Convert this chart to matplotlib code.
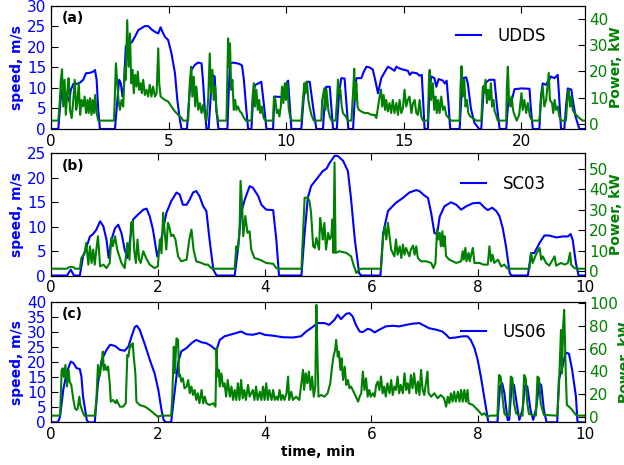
import numpy as np
import matplotlib
matplotlib.use('Agg')
import matplotlib.pyplot as plt

# ---- UDDS (panel a) ----
udds_t = [0, 0.31, 0.41, 0.49, 0.59, 0.69, 0.78, 0.84, 0.95, 1.09, 1.23, 1.37, 1.49, 1.66, 1.80, 1.87,
          1.94, 2.01, 2.08, 2.72, 2.82, 2.90, 2.97, 3.04, 3.10, 3.18, 3.28, 3.43, 3.57, 3.71, 3.85, 3.99,
          4.13, 4.27, 4.42, 4.56, 4.66, 4.74, 4.84, 4.98, 5.12, 5.27, 5.37, 5.48, 5.55, 5.78, 5.87, 5.97,
          6.11, 6.25, 6.40, 6.47, 6.54, 6.61, 6.70, 6.78, 6.86, 6.96, 7.03, 7.12, 7.50, 7.56, 7.62, 7.75,
          8.00, 8.12, 8.20, 8.30, 8.38, 8.52, 8.60, 8.67, 8.94, 9.05, 9.16, 9.44, 9.50, 9.80, 9.94, 10.08,
          10.15, 10.22, 10.64, 10.75, 10.86, 11.00, 11.15, 11.28, 11.56, 11.65, 11.70, 11.85, 11.92, 11.99,
          12.15, 12.25, 12.34, 12.48, 12.56, 12.64, 12.84, 12.92, 12.98, 13.19, 13.30, 13.41, 13.55, 13.68,
          13.80, 13.90, 14.04, 14.25, 14.32, 14.45, 14.60, 14.68, 14.80, 14.96, 15.17, 15.25, 15.35, 15.55,
          15.67, 15.76, 15.82, 15.88, 16.02, 16.10, 16.17, 16.30, 16.38, 16.48, 16.66, 16.74, 16.82, 16.90,
          16.97, 17.37, 17.45, 17.51, 17.65, 17.72, 17.85, 18.00, 18.20, 18.29, 18.40, 18.52, 18.64, 18.85,
          18.95, 19.07, 19.35, 19.45, 19.60, 19.70, 20.00, 20.34, 20.40, 20.48, 20.76, 20.83, 20.90, 21.04,
          21.26, 21.40, 21.54, 21.60, 21.68, 21.82, 21.90, 21.97, 22.12, 22.18, 22.30, 22.46, 22.70]
udds_speed = [0, 0, 7.1, 9.5, 9.1, 7.9, 6.7, 9.5, 11, 11, 11.3, 12, 13.6, 13.7, 14, 14.4,
              12, 4.6, 0, 0, 7.1, 12, 11.1, 7.9, 10.3, 20.1, 20.9, 21.1, 22.5, 24.1, 24.6, 25.1,
              25.1, 24.3, 23.7, 23.3, 24.8, 23.7, 22.5, 21.7, 18.5, 13.6, 7.1, 2.2, 0, 0, 7.1, 14.4,
              15.6, 16.2, 16, 11.1, 4.6, 0, 0, 7.1, 13.2, 12.8, 4.6, 0, 0, 10, 16, 16.2,
              15.9, 15.5, 12, 5, 0, 0, 8, 10.7, 11.5, 6, 0, 0, 7.9, 7.8, 10.3, 11.8,
              6, 0, 0, 8, 11.5, 11.5, 5, 0, 0, 8, 10.3, 10.3, 5, 0,
              0, 9, 12.4, 12.3, 6, 0, 0, 8, 12.4, 12.4, 14, 15.2, 15, 14.5,
              11.5, 8.7, 12.4, 14.5, 15.2, 14.8, 14.2, 15.2, 14.8, 14.5, 14.2, 13.2, 13.8, 13.6,
              13.0, 13.2, 7, 0, 0, 10, 12.8, 12.4, 10.3, 12.2, 11.8, 11.1, 11.8, 6,
              0, 0, 8, 12.4, 12.6, 11.1, 5, 1.5, 0, 0, 10.3, 11.5, 12, 12,
              6, 0, 0, 7.5, 7.2, 9.7, 9.9, 9.8, 5, 0, 0, 8, 11.1, 10.8,
              12.8, 12.4, 13.2, 8, 0, 0, 6, 9.9, 9.6, 7.1, 3, 0, 0]
udds_pt = [0, 0.31, 0.38, 0.42, 0.47, 0.52, 0.58, 0.63, 0.69, 0.75, 0.81, 0.88, 0.95, 1.01, 1.07, 1.12,
           1.18, 1.24, 1.30, 1.37, 1.43, 1.49, 1.55, 1.60, 1.66, 1.72, 1.77, 1.83, 1.88, 1.94, 2.01, 2.68,
           2.76, 2.82, 2.87, 2.93, 3.00, 3.07, 3.14, 3.18, 3.24, 3.30, 3.36, 3.41, 3.47, 3.52, 3.58, 3.64,
           3.69, 3.75, 3.81, 3.86, 3.92, 3.99, 4.06, 4.13, 4.20, 4.27, 4.34, 4.42, 4.49, 4.56, 4.60, 4.66,
           4.74, 4.84, 4.98, 5.12, 5.27, 5.41, 5.55, 5.62, 5.83, 5.90, 5.96, 6.01, 6.07, 6.13, 6.18, 6.26,
           6.33, 6.40, 6.47, 6.54, 6.61, 6.68, 6.75, 6.80, 6.86, 6.92, 6.98, 7.03, 7.11, 7.46, 7.49, 7.53,
           7.57, 7.61, 7.66, 7.71, 7.77, 7.83, 7.88, 7.95, 8.03, 8.10, 8.17, 8.28, 8.52, 8.56, 8.62, 8.67,
           8.73, 8.79, 8.85, 8.90, 8.96, 9.04, 9.12, 9.44, 9.48, 9.54, 9.60, 9.65, 9.71, 9.77, 9.82, 9.88,
           9.94, 9.99, 10.05, 10.11, 10.18, 10.24, 10.64, 10.72, 10.77, 10.82, 10.88, 10.94, 10.99, 11.07,
           11.17, 11.49, 11.53, 11.58, 11.62, 11.66, 11.71, 11.75, 11.79, 11.85, 11.92, 12.10, 12.16, 12.20,
           12.25, 12.30, 12.36, 12.41, 12.53, 12.62, 12.77, 12.84, 12.89, 12.93, 12.98, 13.03, 13.09, 13.19,
           13.33, 13.47, 13.62, 13.76, 13.83, 13.97, 14.03, 14.08, 14.14, 14.20, 14.25, 14.32, 14.39, 14.46,
           14.53, 14.60, 14.68, 14.75, 14.82, 14.89, 14.96, 15.03, 15.10, 15.17, 15.24, 15.32, 15.39, 15.46,
           15.53, 15.60, 15.67, 15.74, 15.81, 16.02, 16.07, 16.10, 16.16, 16.23, 16.29, 16.35, 16.40, 16.46,
           16.52, 16.59, 16.66, 16.73, 16.80, 16.91, 17.00, 17.37, 17.41, 17.45, 17.51, 17.57, 17.62, 17.68,
           17.74, 17.82, 17.93, 18.08, 18.29, 18.36, 18.41, 18.47, 18.53, 18.58, 18.64, 18.70, 18.75, 18.81,
           18.86, 18.92, 18.99, 19.35, 19.38, 19.42, 19.47, 19.53, 19.58, 19.64, 19.70, 19.80, 19.90, 20.00,
           20.05, 20.12, 20.20, 20.27, 20.36, 20.45, 20.76, 20.84, 20.90, 20.97, 21.05, 21.12, 21.16, 21.21,
           21.30, 21.35, 21.41, 21.47, 21.54, 21.61, 21.68, 21.89, 21.97, 22.01, 22.07, 22.12, 22.18, 22.25,
           22.32, 22.46, 22.60, 22.70]
udds_power = [1.2, 1.2, 9.1, 16.8, 20.8, 6.6, 16.8, 3.4, 11.7, 17.4, 5.3, 2.2, 9.1, 16.8, 5.3, 7.9,
              15.5, 3.4, 9.1, 6.6, 10.4, 4.1, 9.1, 4.1, 9.8, 3.4, 9.1, 4.1, 11.0, 4.1, 1.2, 1.2,
              23.1, 15.5, 9.1, 5.3, 9.1, 6.6, 21.8, 16.8, 39.6, 21.8, 34.5, 15.5, 20.6, 11.7, 18.7, 14.2,
              19.9, 13.0, 15.5, 11.7, 16.8, 11.0, 13.0, 10.4, 14.9, 10.4, 14.2, 10.4, 11.7, 28.8, 15.5, 10.4,
              9.8, 9.1, 8.5, 6.6, 4.7, 3.4, 2.2, 1.2, 1.2, 15.5, 21.8, 10.4, 18.0, 6.6, 14.2, 5.3,
              7.9, 4.1, 7.3, 3.4, 1.2, 9.1, 26.9, 11.7, 20.6, 9.1, 14.2, 5.3, 1.2, 1.2, 15.5, 32.6,
              21.8, 30.7, 13.0, 16.8, 5.3, 9.1, 5.3, 6.6, 4.7, 4.1, 2.8, 1.2, 1.2, 9.1, 15.5, 6.6,
              13.0, 5.3, 9.1, 4.1, 6.6, 2.2, 1.2, 1.2, 10.4, 9.1, 4.1, 5.3, 2.8, 6.6, 14.2, 7.9,
              15.5, 9.1, 15.5, 5.3, 2.2, 1.2, 1.2, 10.4, 15.5, 11.7, 16.1, 9.1, 6.6, 3.4,
              1.2, 1.2, 9.1, 11.7, 13.6, 5.3, 13.0, 9.1, 5.3, 2.8, 1.2, 1.2, 9.1, 16.8,
              11.7, 13.0, 6.6, 4.1, 2.8, 1.2, 1.2, 11.7, 21.0, 9.1, 15.5, 6.6, 5.3, 4.7,
              4.1, 4.1, 3.4, 3.4, 2.2, 10.4, 13.0, 6.6, 11.0, 5.3, 9.1, 4.7, 7.9, 4.1,
              9.1, 4.1, 7.9, 3.4, 9.1, 4.1, 6.0, 13.0, 6.6, 9.1, 10.4, 4.1, 7.9, 9.1,
              4.1, 3.4, 9.1, 2.8, 1.2, 1.2, 18.0, 20.6, 9.1, 15.5, 5.3, 10.4, 4.1, 9.1,
              4.1, 10.4, 5.3, 6.6, 3.4, 2.2, 1.2, 1.2, 14.2, 22.0, 10.4, 16.8, 6.6, 9.1,
              4.1, 2.8, 2.2, 1.2, 1.2, 14.2, 11.7, 16.8, 7.9, 13.0, 9.1, 15.5, 6.6, 9.1,
              4.7, 3.4, 1.2, 1.2, 14.2, 21.8, 9.1, 6.6, 10.4, 5.3, 3.4, 1.2, 3.4, 11.7,
              5.3, 9.1, 4.1, 7.9, 2.8, 1.2, 1.2, 10.4, 14.2, 6.6, 9.1, 15.5, 19.5, 9.1,
              7.9, 4.1, 9.1, 5.3, 6.6, 2.8, 1.2, 1.2, 11.7, 13.0, 6.6, 10.4, 5.3, 4.1,
              3.4, 2.2, 1.2, 1.2]

# ---- SC03 (panel b) ----
sc03_t = [0, 0.30, 0.37, 0.43, 0.54, 0.60, 0.67, 0.73, 0.79, 0.85, 0.92, 0.98, 1.04, 1.08, 1.13, 1.20,
          1.26, 1.32, 1.38, 1.43, 1.48, 1.54, 1.63, 1.73, 1.79, 1.85, 1.91, 1.99, 2.04, 2.10, 2.16, 2.25,
          2.35, 2.41, 2.47, 2.54, 2.60, 2.66, 2.72, 2.78, 2.85, 2.91, 2.97, 3.04, 3.10, 3.44, 3.50, 3.56,
          3.63, 3.72, 3.78, 3.88, 3.94, 4.03, 4.16, 4.22, 4.27, 4.69, 4.75, 4.81, 4.87, 4.97, 5.09, 5.16,
          5.22, 5.31, 5.37, 5.47, 5.56, 5.62, 5.69, 5.77, 5.81, 6.17, 6.22, 6.31, 6.37, 6.46, 6.59, 6.71,
          6.84, 6.90, 6.99, 7.06, 7.12, 7.18, 7.23, 7.28, 7.37, 7.49, 7.59, 7.68, 7.78, 7.90, 8.03, 8.12,
          8.18, 8.26, 8.34, 8.40, 8.46, 8.52, 8.59, 8.62, 8.93, 8.99, 9.05, 9.15, 9.24, 9.33, 9.46, 9.58,
          9.68, 9.73, 9.77, 9.83, 9.88, 10.0]
sc03_speed = [0, 0, 1.2, 0, 0, 3.9, 6.0, 8.0, 8.5, 9.4, 11.1, 10.1, 7.3, 3.6, 7.3, 9.7,
              10.4, 8.7, 5.3, 3.6, 7.3, 11.5, 12.5, 13.5, 13.7, 12.1, 9.4, 3.9, 6.0, 9.4, 12.8, 15.2,
              17.0, 16.6, 14.5, 14.5, 15.6, 17.0, 17.3, 16.3, 14.2, 13.2, 7.3, 1.2, 0, 0, 5.3, 12.8,
              15.6, 18.3, 18.0, 16.3, 14.5, 13.5, 13.4, 7.3, 0, 0, 8.7, 15.9, 18.3, 19.7, 21.4, 21.9,
              23.1, 24.5, 24.5, 23.5, 21.4, 15.6, 7.3, 0.5, 0, 0, 8.7, 13.2, 13.9, 14.9, 15.9, 17.0,
              17.5, 17.3, 16.4, 15.9, 12.8, 8.7, 8.5, 12.1, 14.2, 15.0, 14.5, 13.5, 14.2, 14.8, 14.9, 13.9,
              13.4, 13.9, 13.2, 12.1, 9.7, 6.0, 0.5, 0, 0, 4.6, 4.6, 6.7, 8.2, 8.2, 7.8, 8.0,
              8.0, 8.5, 7.3, 2.5, 0, 0]
sc03_pt = [0, 0.30, 0.34, 0.42, 0.45, 0.54, 0.57, 0.63, 0.66, 0.70, 0.73, 0.76, 0.79, 0.82, 0.85, 0.88,
           0.92, 0.98, 1.04, 1.10, 1.13, 1.16, 1.20, 1.24, 1.28, 1.32, 1.38, 1.43, 1.47, 1.50, 1.53, 1.56,
           1.59, 1.62, 1.65, 1.68, 1.73, 1.78, 1.85, 1.94, 2.00, 2.04, 2.07, 2.10, 2.13, 2.16, 2.19, 2.22,
           2.25, 2.29, 2.33, 2.38, 2.44, 2.54, 2.59, 2.63, 2.67, 2.72, 2.82, 2.88, 2.94, 3.00, 3.04, 3.44,
           3.47, 3.50, 3.53, 3.55, 3.58, 3.60, 3.64, 3.68, 3.72, 3.75, 3.81, 3.91, 4.03, 4.16, 4.22, 4.25,
           4.69, 4.75, 4.81, 4.84, 4.87, 4.91, 4.94, 4.97, 5.02, 5.04, 5.07, 5.09, 5.12, 5.15, 5.19, 5.22,
           5.25, 5.27, 5.29, 5.31, 5.33, 5.40, 5.53, 5.62, 5.67, 5.72, 5.77, 5.81, 6.18, 6.22, 6.25, 6.28,
           6.31, 6.34, 6.37, 6.40, 6.43, 6.46, 6.49, 6.53, 6.56, 6.59, 6.62, 6.65, 6.71, 6.74, 6.78, 6.81,
           6.84, 6.87, 6.93, 7.03, 7.12, 7.16, 7.20, 7.23, 7.25, 7.28, 7.30, 7.33, 7.35, 7.37, 7.40, 7.46,
           7.59, 7.68, 7.71, 7.73, 7.76, 7.78, 7.82, 7.84, 7.90, 7.93, 8.03, 8.09, 8.18, 8.21, 8.24, 8.27,
           8.30, 8.37, 8.43, 8.49, 8.55, 8.96, 8.99, 9.02, 9.08, 9.15, 9.18, 9.21, 9.27, 9.33, 9.43, 9.46,
           9.55, 9.62, 9.68, 9.72, 9.74, 9.80, 9.86, 10.0]
sc03_power = [1.3, 1.3, 2.1, 2.1, 1.3, 1.3, 6.5, 8.8, 13.8, 3.3, 12.2, 4.1, 10.6, 3.3, 10.6, 17.1,
              2.4, 3.3, 1.6, 4.1, 16.3, 12.2, 17.1, 10.6, 7.3, 4.1, 1.6, 13.8, 5.7, 23.6, 24.4, 9.8,
              4.1, 15.5, 5.7, 4.1, 9.8, 6.5, 3.3, 1.6, 2.4, 15.5, 8.8, 28.5, 18.7, 10.6, 23.6, 21.2,
              17.1, 17.9, 15.5, 7.3, 4.9, 5.7, 15.5, 20.3, 10.6, 4.9, 4.1, 3.3, 3.3, 1.6, 1.3, 1.3,
              12.2, 10.6, 18.7, 44.0, 31.7, 17.1, 26.9, 18.7, 19.5, 10.6, 6.5, 5.7, 4.1, 3.7, 1.6, 1.3,
              1.3, 35.8, 35.8, 34.2, 28.5, 12.2, 11.4, 16.3, 10.6, 26.0, 20.3, 15.5, 23.6, 10.6, 18.7, 15.5,
              17.1, 25.2, 9.0, 52.9, 9.0, 9.8, 9.0, 7.3, 2.8, -0.8, 0.8, 1.3, 1.3, 17.1, 22.0, 15.5,
              23.6, 17.1, 10.6, 9.0, 7.3, 15.5, 8.1, 12.2, 6.5, 13.0, 8.1, 11.4, 7.3, 10.6, 12.5, 8.1,
              12.2, 6.5, 4.9, 4.9, 4.1, 1.6, 4.1, 20.3, 15.5, 18.7, 12.2, 19.5, 12.2, 17.1, 7.3, 5.7,
              4.1, 4.9, 9.8, 5.7, 11.4, 4.9, 9.0, 4.9, 11.4, 4.1, 4.1, 3.3, 3.3, 12.2, 4.9, 8.1,
              4.1, 5.7, 2.4, 3.3, 1.3, 1.3, 9.0, 4.1, 8.1, 11.4, 5.7, 7.3, 4.1, 2.8, 7.3, 2.8,
              4.1, 3.3, 4.1, 9.0, 3.3, 1.6, 1.3, 1.3]

# ---- US06 (panel c) ----
us06_t = [0, 0.13, 0.17, 0.23, 0.29, 0.37, 0.42, 0.48, 0.54, 0.57, 0.60, 0.67, 0.70, 0.82, 0.88, 0.95,
          1.04, 1.11, 1.20, 1.29, 1.38, 1.45, 1.51, 1.57, 1.61, 1.66, 1.76, 1.85, 1.94, 2.01, 2.07, 2.11,
          2.15, 2.25, 2.32, 2.38, 2.44, 2.54, 2.63, 2.72, 2.82, 2.91, 3.00, 3.07, 3.11, 3.16, 3.25, 3.35,
          3.47, 3.56, 3.66, 3.78, 3.91, 4.00, 4.16, 4.34, 4.53, 4.68, 4.78, 4.90, 4.99, 5.03, 5.12, 5.21,
          5.31, 5.37, 5.43, 5.53, 5.59, 5.65, 5.71, 5.78, 5.84, 5.93, 5.99, 6.06, 6.15, 6.27, 6.40, 6.52,
          6.65, 6.77, 6.90, 6.96, 7.08, 7.21, 7.33, 7.40, 7.46, 7.58, 7.71, 7.80, 7.86, 7.93, 7.99, 8.05,
          8.11, 8.16, 8.19, 8.36, 8.41, 8.45, 8.49, 8.55, 8.58, 8.63, 8.67, 8.74, 8.77, 8.83, 8.88, 8.92,
          8.98, 9.03, 9.09, 9.14, 9.18, 9.23, 9.28, 9.48, 9.51, 9.58, 9.64, 9.70, 9.76, 9.83, 9.86, 10.0]
us06_speed = [0, 0, 1.9, 10.8, 16.3, 20.2, 19.7, 18.0, 17.7, 15.2, 8.6, 0.8, 0, 0, 13.0, 20.8,
              24.1, 25.8, 25.4, 24.1, 23.8, 25.2, 28.6, 31.7, 32.1, 30.8, 25.8, 20.8, 16.3, 10.8, 4.1, 0.8,
              0, 0, 10.8, 19.7, 23.6, 24.7, 26.3, 27.4, 26.6, 26.3, 25.4, 24.3, 24.6, 27.4, 28.6, 29.1,
              29.7, 30.2, 29.3, 29.1, 29.7, 29.1, 28.8, 28.3, 28.2, 28.6, 30.2, 31.7, 33.0, 33.0, 33.0, 32.4,
              34.1, 35.8, 34.3, 36.1, 36.3, 35.2, 32.4, 30.2, 30.0, 31.1, 30.8, 29.9, 30.8, 31.9, 32.1, 31.9,
              32.4, 32.8, 33.0, 32.4, 31.3, 30.8, 30.2, 29.1, 28.0, 28.2, 28.6, 28.6, 27.4, 24.7, 20.8, 15.2,
              8.6, 3.0, 0, 0, 11.9, 13.0, 9.7, 0.8, 0.8, 13.0, 12.4, 4.1, 0.8, 4.1, 12.4, 11.9,
              4.1, 0.8, 5.0, 13.0, 12.4, 4.1, 0, 0, 14.1, 18.6, 23.2, 22.8, 17.4, 8.6, 0, 0]
us06_pt = [0, 0.17, 0.20, 0.22, 0.24, 0.27, 0.30, 0.33, 0.35, 0.38, 0.42, 0.45, 0.48, 0.50, 0.53, 0.55,
           0.59, 0.63, 0.66, 0.82, 0.85, 0.88, 0.91, 0.95, 0.97, 0.99, 1.01, 1.04, 1.07, 1.10, 1.12, 1.16,
           1.21, 1.23, 1.29, 1.35, 1.40, 1.43, 1.45, 1.48, 1.50, 1.53, 1.55, 1.58, 1.60, 1.66, 1.76, 1.85,
           1.94, 2.00, 2.07, 2.25, 2.27, 2.30, 2.32, 2.35, 2.38, 2.40, 2.42, 2.44, 2.47, 2.50, 2.54, 2.57,
           2.60, 2.63, 2.66, 2.69, 2.72, 2.75, 2.78, 2.82, 2.85, 2.88, 2.91, 2.97, 3.04, 3.08, 3.10, 3.12,
           3.14, 3.16, 3.19, 3.22, 3.25, 3.28, 3.31, 3.35, 3.38, 3.41, 3.44, 3.47, 3.50, 3.53, 3.56, 3.59,
           3.62, 3.65, 3.69, 3.72, 3.78, 3.81, 3.84, 3.87, 3.91, 3.94, 3.97, 4.00, 4.03, 4.06, 4.09, 4.13,
           4.16, 4.19, 4.22, 4.25, 4.28, 4.31, 4.34, 4.37, 4.41, 4.44, 4.46, 4.50, 4.53, 4.59, 4.65, 4.72,
           4.74, 4.77, 4.80, 4.83, 4.86, 4.89, 4.92, 4.95, 4.97, 4.99, 5.01, 5.06, 5.12, 5.18, 5.23, 5.26,
           5.29, 5.32, 5.34, 5.37, 5.39, 5.42, 5.44, 5.47, 5.50, 5.53, 5.56, 5.59, 5.62, 5.65, 5.71, 5.75,
           5.78, 5.81, 5.84, 5.87, 5.90, 5.93, 5.96, 5.99, 6.03, 6.06, 6.09, 6.12, 6.15, 6.18, 6.21, 6.24,
           6.27, 6.30, 6.34, 6.37, 6.40, 6.43, 6.46, 6.49, 6.52, 6.55, 6.59, 6.62, 6.65, 6.68, 6.71, 6.74,
           6.77, 6.80, 6.84, 6.87, 6.90, 6.93, 6.96, 6.99, 7.05, 7.07, 7.12, 7.18, 7.24, 7.30, 7.36, 7.40,
           7.43, 7.46, 7.49, 7.52, 7.55, 7.58, 7.62, 7.65, 7.68, 7.71, 7.74, 7.77, 7.80, 7.82, 7.90, 7.96,
           8.02, 8.07, 8.11, 8.17, 8.23, 8.36, 8.39, 8.42, 8.46, 8.49, 8.52, 8.58, 8.61, 8.64, 8.67, 8.71,
           8.77, 8.83, 8.86, 8.89, 8.92, 8.95, 9.05, 9.08, 9.11, 9.14, 9.17, 9.23, 9.48, 9.51, 9.55, 9.57,
           9.59, 9.61, 9.64, 9.66, 9.70, 9.76, 9.83, 9.88, 10.0]
us06_power = [0.9, 0.9, 41.0, 42.6, 35.0, 45.6, 26.5, 41.0, 30.9, 27.9, 14.7, 7.3, 5.9, 7.3, 17.6, 10.3,
              4.4, 0.6, 0.9, 0.9, 14.7, 45.6, 35.3, 47.0, 57.3, 41.0, 45.6, 41.0, 44.1, 29.4, 13.2, 14.7,
              11.8, 14.7, 8.8, 8.8, 11.8, 54.4, 52.9, 63.2, 61.7, 64.7, 52.9, 38.2, 13.2, 10.3, 8.8, 5.9,
              2.4, 0, 0.9, 0.9, 14.7, 61.7, 38.2, 69.0, 67.6, 35.3, 36.7, 30.9, 33.8, 25.0, 26.5, 32.3,
              20.6, 26.5, 19.1, 23.5, 14.7, 20.6, 11.8, 23.5, 11.8, 17.6, 11.8, 10.3, 11.8, 8.8, 60.3, 35.3,
              41.2, 26.5, 38.2, 26.5, 29.4, 17.6, 32.3, 17.6, 26.5, 14.7, 23.5, 14.7, 29.4, 14.7, 32.3, 16.2,
              23.5, 14.7, 27.9, 17.6, 23.5, 14.7, 26.5, 14.7, 22.0, 14.7, 26.5, 14.7, 29.4, 14.7, 23.5, 14.7,
              23.5, 14.7, 17.6, 14.7, 23.5, 14.7, 19.1, 14.7, 20.6, 35.3, 14.7, 22.0, 14.7, 17.6, 14.7, 41.2,
              23.5, 38.2, 29.4, 39.7, 23.5, 35.3, 17.6, 26.5, 98.5, 52.9, 17.6, 19.1, 17.6, 20.6, 29.4, 42.6,
              52.9, 58.8, 67.6, 52.9, 57.3, 41.2, 51.4, 32.3, 44.1, 27.9, 32.3, 25.0, 26.5, 23.5, 17.6, 13.2,
              17.6, 20.6, 39.7, 23.5, 33.8, 17.6, 23.5, 17.6, 20.6, 17.6, 27.9, 30.9, 23.5, 35.3, 20.6, 26.5,
              17.6, 29.4, 20.6, 32.3, 19.1, 26.5, 23.5, 35.3, 20.6, 27.9, 20.6, 38.2, 23.5, 29.4, 20.6, 36.7,
              25.0, 38.2, 20.6, 30.9, 19.1, 41.2, 23.5, 19.1, 39.7, 20.6, 17.6, 20.6, 16.2, 19.1, 16.2, 8.8,
              17.6, 11.8, 20.6, 13.2, 22.0, 13.2, 22.0, 13.2, 23.5, 13.2, 23.5, 13.2, 23.5, 11.8, 10.3, 7.3,
              4.4, 1.5, 2.9, 0, 0.9, 0.9, 36.7, 35.3, 14.7, 3.0, 0.9, 0.9, 35.3, 33.8, 11.8, 3.0,
              0.9, 0.9, 36.7, 33.8, 11.8, 2.4, 0.9, 0.9, 35.3, 33.8, 11.8, 1.5, 0.9, 23.5, 76.4, 38.2,
              79.4, 94.1, 38.2, 10.3, 8.8, 5.9, 1.5, 0.9, 0.9]

panels = [
    dict(tag='(a)', name='UDDS', t=udds_t, v=udds_speed, pt=udds_pt, p=udds_power,
         xlim=(0, 22.7), xticks=[0, 5, 10, 15, 20], vlim=(0, 30), vticks=range(0, 31, 5),
         plim=(-2, 45), pticks=range(0, 41, 10), rect=[0.0817, 0.7226, 0.8558, 0.2645]),
    dict(tag='(b)', name='SC03', t=sc03_t, v=sc03_speed, pt=sc03_pt, p=sc03_power,
         xlim=(0, 10), xticks=range(0, 11, 2), vlim=(0, 25), vticks=range(0, 26, 5),
         plim=(-2, 57.3), pticks=range(0, 51, 10), rect=[0.0817, 0.4075, 0.8558, 0.2624]),
    dict(tag='(c)', name='US06', t=us06_t, v=us06_speed, pt=us06_pt, p=us06_power,
         xlim=(0, 10), xticks=range(0, 11, 2), vlim=(0, 40), vticks=range(0, 41, 5),
         plim=(-5, 101), pticks=range(0, 101, 20), rect=[0.0817, 0.0918, 0.8558, 0.2587]),
]

blue = '#0000ff'
green = '#008000'

fig = plt.figure(figsize=(6.24, 4.65), dpi=100)

for i, pn in enumerate(panels):
    ax = fig.add_axes(pn['rect'])
    ax.plot(pn['t'], pn['v'], color=blue, lw=1.5, label=pn['name'])
    ax.set_xlim(pn['xlim'])
    ax.set_ylim(pn['vlim'])
    ax.set_xticks(pn['xticks'])
    ax.set_yticks(list(pn['vticks']))
    ax.tick_params(direction='in', length=5, top=True, right=False, labelsize=11)
    ax.tick_params(axis='y', labelcolor=blue)
    ax.set_ylabel('speed, m/s', color=blue, fontsize=10, fontweight='bold', labelpad=2)
    ax.text(0.02, 0.90, pn['tag'], transform=ax.transAxes, fontsize=10,
            fontweight='bold', va='center')
    ax.legend(loc='upper right', bbox_to_anchor=(0.955, 0.95), frameon=False,
              fontsize=12, handlelength=1.5, handletextpad=1.0)

    ax2 = ax.twinx()
    ax2.plot(pn['pt'], pn['p'], color=green, lw=1.5)
    ax2.set_xlim(pn['xlim'])
    ax2.set_ylim(pn['plim'])
    ax2.set_yticks(list(pn['pticks']))
    ax2.tick_params(direction='in', length=5, pad=3, labelsize=11, labelcolor=green)
    ax2.set_ylabel('Power, kW', color=green, fontsize=10, fontweight='bold', labelpad=0)

    if i == 2:
        ax.set_xlabel('time, min', fontsize=10, fontweight='bold', labelpad=2)

fig.savefig('out.png', dpi=100)
